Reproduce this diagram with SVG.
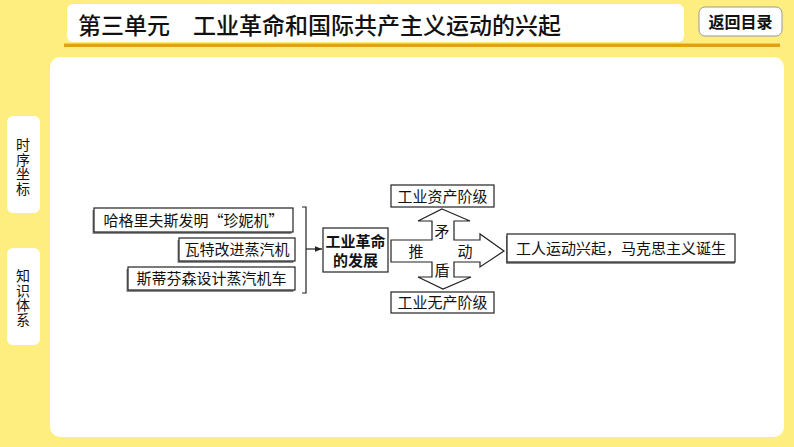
<svg xmlns="http://www.w3.org/2000/svg" width="794" height="447" viewBox="0 0 794 447">
<style>
.cjk{font-family:"Noto Sans CJK SC","Noto Sans",sans-serif;}
.box{fill:#fff;stroke:#222;stroke-width:1.2;}
.shadow{fill:#8a8a8a;}
.lbl{font-size:15px;fill:#111;text-anchor:middle;}
.tab{fill:#fff;}
.tabt{font-size:14px;fill:#111;text-anchor:middle;writing-mode:vertical-rl;letter-spacing:0.5px;}
.conn{fill:none;stroke:#222;stroke-width:1.2;}
</style>
<defs>
<marker id="ah" viewBox="0 0 10 10" refX="10" refY="5" markerWidth="7" markerHeight="7" markerUnits="userSpaceOnUse" orient="auto">
<path d="M0,1 L10,5 L0,9 Z" fill="#222"/>
</marker>
</defs>
<rect x="0" y="0" width="794" height="447" fill="#FEEE80"/>
<g id="title-bar">
<rect x="67" y="4" width="617" height="38" rx="6" fill="#fff"/>
<rect x="64" y="43.5" width="716" height="3.5" fill="#E3A112"/>
<text x="78" y="34" class="cjk" font-size="23" font-weight="500" fill="#111">第三单元　工业革命和国际共产主义运动的兴起</text>
</g>
<g id="back-button">
<rect x="699" y="7" width="83" height="29" rx="6" fill="#fff" stroke="#999" stroke-width="1"/>
<text x="740.5" y="28" class="cjk" font-size="16" font-weight="bold" text-anchor="middle" fill="#111">返回目录</text>
</g>
<rect x="50" y="57" width="734" height="380" rx="10" fill="#fff"/>
<g id="tab-timeline">
<rect class="tab" x="7" y="116" width="33" height="97" rx="6"/>
<text class="cjk tabt" x="23" y="167">时序坐标</text>
</g>
<g id="tab-knowledge">
<rect class="tab" x="7" y="248" width="33" height="97" rx="6"/>
<text class="cjk tabt" x="23" y="298">知识体系</text>
</g>
<g id="connectors">
<path class="conn" d="M302,207 H306 V293 H302"/>
<path class="conn" d="M306,249 H322" marker-end="url(#ah)"/>
</g>
<g id="n-jenny">
<rect class="shadow" x="92.5" y="210" width="199" height="24"/>
<rect class="box" x="94" y="208" width="199" height="24"/>
<text class="cjk lbl" x="193.5" y="225.5">哈格里夫斯发明“珍妮机”</text>
</g>
<g id="n-watt">
<rect class="shadow" x="177.5" y="240" width="116" height="23"/>
<rect class="box" x="179" y="238" width="116" height="23"/>
<text class="cjk lbl" x="237" y="255">瓦特改进蒸汽机</text>
</g>
<g id="n-stephenson">
<rect class="shadow" x="126.5" y="269" width="167" height="23"/>
<rect class="box" x="128" y="267" width="167" height="23"/>
<text class="cjk lbl" x="211.5" y="284">斯蒂芬森设计蒸汽机车</text>
</g>
<g id="n-industrial">
<rect class="box" x="323" y="228" width="65" height="44"/>
<text class="cjk lbl" font-weight="bold" x="355.5" y="247">工业革命</text>
<text class="cjk lbl" font-weight="bold" x="355.5" y="266">的发展</text>
</g>
<g id="n-cross">
<polygon class="box" points="442,209 470,221 454,221 454,240 480,240 480,234 504,251 480,267 480,262 454,262 454,277 471,277 443,289 418,277 432,277 432,262 391,262 391,240 432,240 432,221 418,221"/>
<text class="cjk lbl" x="442" y="237">矛</text>
<text class="cjk lbl" x="416" y="256.5">推</text>
<text class="cjk lbl" x="465" y="256.5">动</text>
<text class="cjk lbl" x="442" y="275.5">盾</text>
</g>
<g id="n-bourgeoisie">
<rect class="box" x="391" y="185" width="103" height="22"/>
<text class="cjk lbl" x="442.5" y="201.5">工业资产阶级</text>
</g>
<g id="n-proletariat">
<rect class="box" x="391" y="292" width="103" height="21"/>
<text class="cjk lbl" x="442.5" y="308">工业无产阶级</text>
</g>
<g id="n-marxism">
<rect class="shadow" x="506" y="236" width="229" height="28"/>
<rect class="box" x="507" y="234" width="228" height="28"/>
<text class="cjk lbl" font-size="15.5" x="621" y="253.5">工人运动兴起，马克思主义诞生</text>
</g>
</svg>
